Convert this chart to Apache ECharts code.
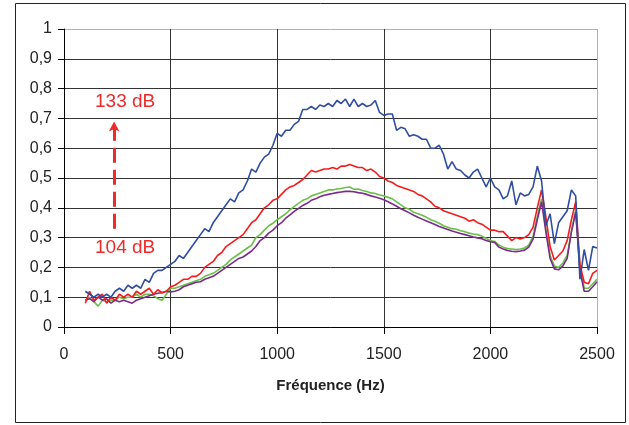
<!DOCTYPE html>
<html><head><meta charset="utf-8">
<script src="https://cdn.jsdelivr.net/npm/echarts@6/dist/echarts.min.js"></script>
<style>html,body{margin:0;padding:0;background:#fff}#c{width:629px;height:425px}</style>
</head><body><div id="c"></div>
<script>
// Frequencies (Hz), 20 Hz steps from 100 to 2500
var freq = [];
for (var f = 100; f <= 2500; f += 20) freq.push(f);

var blue = [0.12,0.11,0.10,0.11,0.10,0.11,0.10,0.12,0.13,0.12,0.14,0.13,0.14,0.13,0.16,0.15,0.18,0.19,0.19,0.20,
0.21,0.22,0.24,0.23,0.25,0.27,0.29,0.31,0.33,0.32,0.35,0.37,0.39,0.41,0.43,0.42,0.45,0.46,0.49,0.53,
0.52,0.55,0.57,0.58,0.61,0.65,0.64,0.66,0.66,0.68,0.69,0.73,0.73,0.74,0.73,0.745,0.74,0.75,0.74,0.76,
0.75,0.765,0.74,0.765,0.74,0.75,0.74,0.745,0.76,0.72,0.71,0.715,0.715,0.66,0.67,0.665,0.64,0.645,0.64,0.63,
0.63,0.60,0.60,0.61,0.58,0.53,0.555,0.53,0.525,0.51,0.50,0.52,0.53,0.50,0.47,0.50,0.47,0.46,0.43,0.44,
0.49,0.41,0.45,0.44,0.445,0.47,0.54,0.49,0.34,0.38,0.28,0.35,0.37,0.39,0.46,0.44,0.16,0.26,0.19,0.27,0.265];

var red = [0.08,0.12,0.09,0.10,0.11,0.08,0.10,0.09,0.11,0.10,0.11,0.10,0.12,0.11,0.12,0.13,0.11,0.125,0.115,0.12,
0.135,0.14,0.15,0.16,0.16,0.17,0.17,0.18,0.20,0.21,0.22,0.24,0.25,0.27,0.28,0.29,0.30,0.31,0.33,0.35,
0.36,0.38,0.40,0.41,0.425,0.43,0.445,0.46,0.47,0.475,0.485,0.495,0.51,0.525,0.52,0.525,0.53,0.53,0.535,0.53,
0.54,0.54,0.545,0.54,0.535,0.535,0.525,0.53,0.52,0.505,0.50,0.49,0.485,0.475,0.47,0.465,0.46,0.455,0.445,0.44,
0.43,0.42,0.405,0.40,0.39,0.385,0.38,0.375,0.37,0.365,0.355,0.36,0.35,0.345,0.335,0.325,0.325,0.32,0.32,0.305,
0.29,0.30,0.295,0.30,0.31,0.335,0.40,0.46,0.37,0.27,0.225,0.24,0.255,0.29,0.36,0.42,0.21,0.15,0.145,0.18,0.19];

var green = [0.09,0.10,0.085,0.07,0.09,0.085,0.09,0.09,0.10,0.095,0.10,0.10,0.11,0.10,0.11,0.11,0.105,0.095,0.09,0.11,
0.13,0.13,0.135,0.14,0.145,0.15,0.155,0.16,0.17,0.175,0.18,0.19,0.20,0.21,0.225,0.235,0.245,0.255,0.265,0.275,
0.30,0.31,0.325,0.34,0.348,0.36,0.37,0.38,0.393,0.405,0.415,0.425,0.43,0.44,0.445,0.45,0.455,0.46,0.46,0.463,
0.465,0.468,0.47,0.462,0.463,0.458,0.455,0.45,0.448,0.443,0.44,0.435,0.43,0.42,0.41,0.40,0.395,0.385,0.38,0.375,
0.368,0.36,0.355,0.348,0.34,0.335,0.33,0.328,0.323,0.32,0.315,0.312,0.31,0.305,0.298,0.29,0.287,0.275,0.268,0.263,
0.262,0.26,0.262,0.265,0.275,0.305,0.37,0.43,0.33,0.24,0.205,0.20,0.215,0.24,0.32,0.39,0.20,0.13,0.13,0.145,0.16];

var purple = [0.09,0.095,0.085,0.10,0.09,0.095,0.08,0.09,0.085,0.09,0.085,0.08,0.09,0.095,0.10,0.105,0.11,0.113,0.115,0.12,
0.118,0.12,0.125,0.135,0.14,0.145,0.15,0.152,0.16,0.165,0.17,0.18,0.19,0.20,0.21,0.22,0.23,0.235,0.245,0.255,
0.27,0.29,0.30,0.315,0.325,0.34,0.35,0.365,0.376,0.388,0.398,0.408,0.415,0.425,0.43,0.437,0.442,0.445,0.448,0.451,
0.453,0.455,0.455,0.454,0.451,0.449,0.445,0.44,0.436,0.432,0.427,0.42,0.413,0.405,0.397,0.39,0.383,0.375,0.368,0.362,
0.356,0.35,0.344,0.337,0.332,0.327,0.322,0.318,0.314,0.31,0.306,0.302,0.299,0.296,0.29,0.286,0.284,0.268,0.262,0.257,
0.254,0.253,0.255,0.258,0.268,0.295,0.36,0.42,0.32,0.23,0.195,0.192,0.205,0.23,0.32,0.385,0.19,0.12,0.12,0.135,0.152];

var xTicks = [0, 500, 1000, 1500, 2000, 2500];
var yTicks = [0, 0.1, 0.2, 0.3, 0.4, 0.5, 0.6, 0.7, 0.8, 0.9, 1];
var arrowFreq = 235, arrowFrom = 0.33, arrowTo = 0.69;

function pts(arr){ return freq.map(function(f,i){ return [f, arr[i]]; }); }

var chart = echarts.init(document.getElementById('c'), null, {renderer:'canvas'});
var gridColX = xTicks.map(function(v,i){ return i === xTicks.length-1 ? '#b0b0b0' : '#333'; });
var gridColY = yTicks.map(function(v,i){ return i === yTicks.length-1 ? '#b0b0b0' : '#333'; });
var font = 'Liberation Sans, Arial, sans-serif';
chart.setOption({
  animation: false,
  backgroundColor: '#fff',
  grid: {left: 64, right: 32, top: 29, bottom: 98},
  xAxis: {
    type: 'value', min: 0, max: 2500, interval: 500,
    name: 'Fréquence (Hz)', nameLocation: 'middle', nameGap: 51,
    nameTextStyle: {fontFamily: font, fontSize: 15, fontWeight: 'bold', color: '#222'},
    axisLine: {show: true, lineStyle: {color: '#000', width: 1}},
    axisTick: {show: true, inside: false, length: 7, lineStyle: {color: '#000'}},
    axisLabel: {fontFamily: font, fontSize: 16, color: '#222', margin: 20,
      formatter: function(v){ return String(v); }},
    splitLine: {show: true, lineStyle: {color: gridColX, width: 1}}
  },
  yAxis: {
    type: 'value', min: 0, max: 1, interval: 0.1,
    axisLine: {show: true, lineStyle: {color: '#000', width: 1}},
    axisTick: {show: true, inside: false, length: 6, lineStyle: {color: '#000'}},
    axisLabel: {fontFamily: font, fontSize: 16, color: '#222', margin: 12,
      formatter: function(v){ return (Math.round(v*10)/10).toString().replace('.', ','); }},
    splitLine: {show: true, lineStyle: {color: gridColY, width: 1}}
  },
  series: [
    {type:'line', data: pts(blue), showSymbol:false, symbol:'none', lineStyle:{color:'#2f4ea3', width:1.6}, z:5},
    {type:'line', data: pts(red), showSymbol:false, symbol:'none', lineStyle:{color:'#f51c1c', width:1.6}, z:4,
      markLine: {silent:true, symbol:['none','arrow'], symbolSize:[8,10], label:{show:false},
        lineStyle:{color:'#ee2a2a', width:3, type:[15,7]},
        data:[[{coord:[arrowFreq, arrowFrom]}, {coord:[arrowFreq, arrowTo]}]]}},
    {type:'line', data: pts(green), showSymbol:false, symbol:'none', lineStyle:{color:'#6cbf48', width:1.6}, z:3},
    {type:'line', data: pts(purple), showSymbol:false, symbol:'none', lineStyle:{color:'#7a2a8c', width:1.6}, z:3}
  ],
  graphic: [
    {type:'rect', shape:{x:15.5, y:3.5, width:610, height:419}, style:{fill:'none', stroke:'#222', lineWidth:1}, z:-1},
    {type:'text', left: 95, top: 92, style:{text:'133 dB', font:'19px Liberation Sans, Arial, sans-serif', fill:'#ee2a2a'}},
    {type:'text', left: 95, top: 238, style:{text:'104 dB', font:'19px Liberation Sans, Arial, sans-serif', fill:'#ee2a2a'}}
  ]
});
</script></body></html>
